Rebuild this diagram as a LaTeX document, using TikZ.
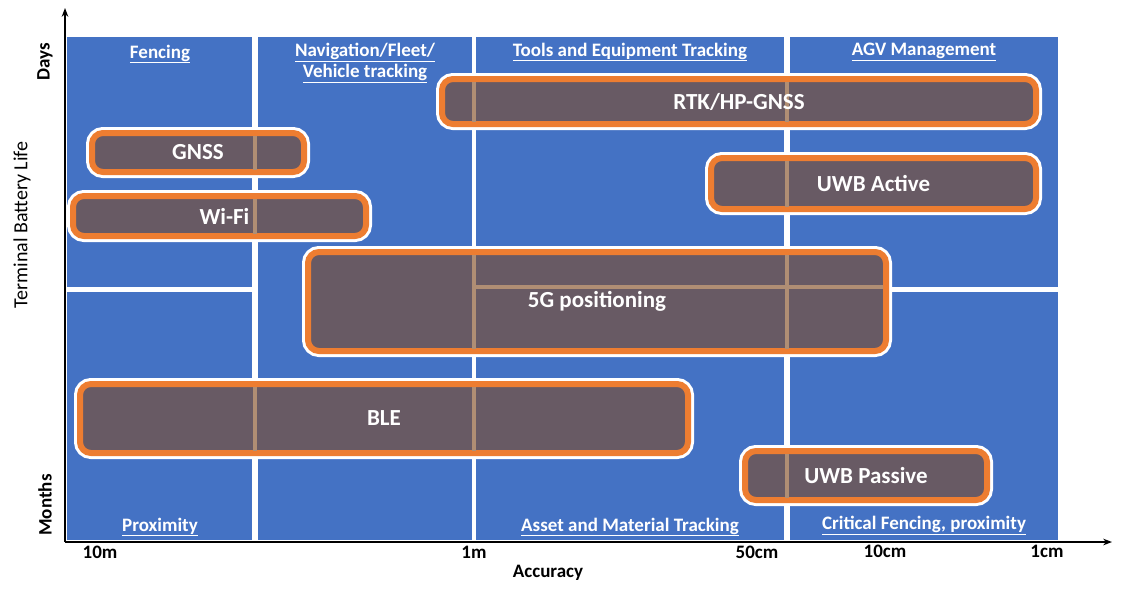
\documentclass[tikz,border=0pt]{standalone}
\usepackage{fontspec}
\setmainfont{Carlito}
\usepackage{tikz}
\usetikzlibrary{arrows.meta, positioning, calc}
\definecolor{cellblue}{HTML}{4472C4}
\definecolor{barfill}{HTML}{685A64}
\definecolor{barorange}{HTML}{ED7D31}
\definecolor{gridtan}{HTML}{B08E74}
\newcommand{\tangrid}{%
  \draw[gridtan, line width=4pt] (255,37) -- (255,540) (474,37) -- (474,540) (787,37) -- (787,540)
    (67,289) -- (252,289) (474,287) -- (1058,287);}

\begin{document}
\begin{tikzpicture}[x=1pt, y=-1pt,
    cell/.style={fill=cellblue, draw=none},
    bar/.style={draw=barorange, line width=6pt, fill=barfill, rounded corners=11pt, outer sep=0pt, inner sep=0pt,
      preaction={draw=white, line width=12pt}},
    barlabel/.style={text=white, font=\bfseries\fontsize{23}{26}\selectfont},
    head/.style={text=white, font=\bfseries\fontsize{19}{21}\selectfont, align=center},
    tick/.style={font=\bfseries\fontsize{19}{21}\selectfont},
    >=Stealth]
    \useasboundingbox (0,0) rectangle (1121,598);
    % cells
    \fill[cell] (67,37) rectangle (252,287);
    \fill[cell] (67,292) rectangle (252,540);
    \fill[cell] (258,37) rectangle (472,540);
    \fill[cell] (476,37) rectangle (784,540);
    \fill[cell] (790,37) rectangle (1058,287);
    \fill[cell] (790,292) rectangle (1058,540);
    % headings
    \node[head] (fence) at (160,54) {\underline{Fencing}};
    \node[head] (nav) at (365,63) {\underline{Navigation/Fleet/}\\\underline{Vehicle tracking}};
    \node[head] (tools) at (630,52) {\underline{Tools and Equipment Tracking}};
    \node[head] (agv) at (924,52) {\underline{AGV Management}};
    \node[head] (prox) at (160,527) {\underline{Proximity}};
    \node[head] (asset) at (630,527) {\underline{Asset and Material Tracking}};
    \node[head] (crit) at (924,525) {\underline{Critical Fencing, proximity}};
    % bars
    \node[bar, minimum width=594pt, minimum height=45pt] (rtk) at (739,101.5) {};
    \node[bar, minimum width=212pt, minimum height=39pt] (gnss) at (198,152.5) {};
    \node[bar, minimum width=293pt, minimum height=40pt] (wifi) at (219.5,216) {};
    \node[bar, minimum width=325pt, minimum height=51pt] (uwba) at (873.5,183.5) {};
    \node[bar, minimum width=578pt, minimum height=99pt] (fiveg) at (597,301.5) {};
    \node[bar, minimum width=608pt, minimum height=69pt] (ble) at (384,418.5) {};
    \node[bar, minimum width=242pt, minimum height=49pt] (uwbp) at (866,475.5) {};
    \foreach \b in {rtk, gnss, wifi, uwba, fiveg, ble, uwbp} {
      \begin{scope}
        \clip ($(\b.south west)+(3,-3)$) rectangle ($(\b.north east)+(-3,3)$);
        \tangrid
      \end{scope}
    }
    \node[barlabel] at (rtk) {RTK/HP-GNSS};
    \node[barlabel] at (gnss) {GNSS};
    \node[barlabel] at ($(wifi)+(5,0)$) {Wi-Fi};
    \node[barlabel] at (uwba) {UWB Active};
    \node[barlabel] at (fiveg) {5G positioning};
    \node[barlabel] at (ble) {BLE};
    \node[barlabel] at (uwbp) {UWB Passive};
    % axes
    \coordinate (origin) at (65,542);
    \coordinate (ytop) at (65,8);
    \coordinate (xend) at (1112,542);
    \draw[->, line width=1.3pt] (origin) -- (ytop);
    \draw[->, line width=1.3pt] (origin) -- (xend);
    \node[tick, rotate=90] (days) at (45,62) {Days};
    \node[tick, rotate=90] (months) at (45,505) {Months};
    \node[rotate=90, font=\fontsize{20}{22}\selectfont] (life) at (22,225) {Terminal Battery Life};
    \node[tick] (t10m) at (100,552) {10m};
    \node[tick] (t1m) at (474,552) {1m};
    \node[tick] (t50) at (757,552) {50cm};
    \node[tick] (t10) at (885,551) {10cm};
    \node[tick] (t1) at (1047,551) {1cm};
    \node[tick] (acc) at (548,573) {Accuracy};
\end{tikzpicture}
\end{document}
